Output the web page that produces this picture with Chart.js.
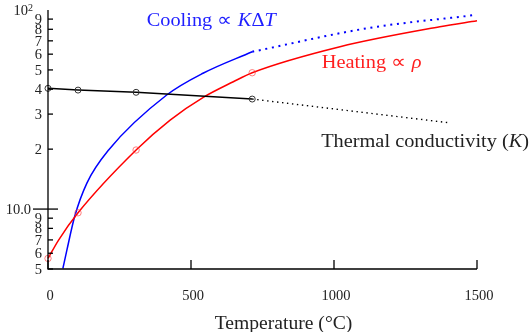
<!DOCTYPE html>
<html>
<head>
<meta charset="utf-8">
<script src="https://cdn.jsdelivr.net/npm/chart.js@4"></script>
<style>
  html, body { margin: 0; padding: 0; background: #fff; }
  #wrap { width: 532px; height: 332px; }
</style>
</head>
<body>
<div id="wrap"><canvas id="chart" width="532" height="332"></canvas></div>
<script>
// --- datos ---
// conductividad termica (K), tramo medido con marcadores
const condT = [0, 105, 308, 714];
const condVal = [40.4, 39.6, 38.6, 35.7];
// extrapolacion punteada
const condExtT = [714, 1405];
const condExtVal = [35.7, 27.1];

// calentamiento (rho)
const heatT = [0, 37, 105, 308, 427, 543, 648, 714, 1021, 1370, 1500];
const heatVal = [5.65, 6.99, 9.58, 19.8, 28.0, 36.4, 43.6, 48.4, 65.4, 82.4, 88.4];
const heatMarkT = [0, 105, 308, 714];

// enfriamiento (K * dT)
const coolT = [52, 66, 93, 136, 212, 415, 542, 714];
const coolVal = [5.03, 6.22, 9.15, 13.5, 19.8, 37.4, 48.1, 61.7];
const coolExtT = [714, 1115, 1485];
const coolExtVal = [61.7, 80.9, 94.1];

// ticks
const xTicks = [0, 500, 1000, 1500];
const yTicks = [5, 6, 7, 8, 9, 10, 20, 30, 40, 50, 60, 70, 80, 90, 100];

const FONT = '"Liberation Serif", "Times New Roman", serif';

function pts(xs, ys) {
    return xs.map((x, i) => ({ x: x, y: ys[i] }));
}

// Dibuja ejes, marcas hacia adentro, etiquetas y textos
const decoPlugin = {
    id: 'deco',
    afterDraw(chart) {
        const ctx = chart.ctx;
        const a = chart.chartArea;
        const xs = chart.scales.x, ys = chart.scales.y;
        ctx.save();
        ctx.strokeStyle = '#000';
        ctx.lineWidth = 1.3;
        ctx.beginPath();
        ctx.moveTo(a.left, a.top);
        ctx.lineTo(a.left, a.bottom);
        ctx.lineTo(a.right, a.bottom);
        ctx.stroke();

        ctx.fillStyle = '#222';
        // eje x
        ctx.font = '14.5px ' + FONT;
        ctx.textAlign = 'center';
        ctx.textBaseline = 'alphabetic';
        xs.ticks.forEach(t => {
            const px = xs.getPixelForValue(t.value);
            ctx.beginPath();
            ctx.moveTo(px, a.bottom);
            ctx.lineTo(px, a.bottom - 9);
            ctx.stroke();
            ctx.fillText(String(t.value), px + 2, a.bottom + 31);
        });

        // eje y (log)
        ys.ticks.forEach(t => {
            const v = t.value;
            const py = ys.getPixelForValue(v);
            ctx.font = '14.5px ' + FONT;
            if (v === 100) {
                ctx.textAlign = 'right';
                ctx.fillText('10', a.left - 20, py + 5);
                ctx.font = '10px ' + FONT;
                ctx.textAlign = 'left';
                ctx.fillText('2', a.left - 20, py + 1);
                return;
            }
            if (v === 10) {
                ctx.beginPath();
                ctx.moveTo(a.left - 15, py);
                ctx.lineTo(a.left + 10, py);
                ctx.stroke();
                ctx.textAlign = 'right';
                ctx.fillText('10.0', a.left - 17, py + 5);
                return;
            }
            ctx.beginPath();
            ctx.moveTo(a.left, py);
            ctx.lineTo(a.left + 5, py);
            ctx.stroke();
            ctx.textAlign = 'right';
            const lab = v < 10 ? String(v) : String(v / 10);
            ctx.fillText(lab, a.left - 6, py + 5);
        });

        // titulo eje x
        ctx.font = '18.5px ' + FONT;
        ctx.textAlign = 'center';
        ctx.save();
        ctx.translate((a.left + a.right) / 2 + 21, a.bottom + 60);
        ctx.scale(1.06, 1);
        ctx.fillText('Temperature (\u00B0C)', 0, 0);
        ctx.restore();

        // anotaciones: partes [texto, cursiva]; se ensanchan (fuente tipo CM)
        const notes = [
            { x: 345, y: 83.4, color: '#1f1fff', parts: [['Cooling \u221D ', false], ['K', true], ['\u0394', false], ['T', true]] },
            { x: 957, y: 50.9, color: '#ff1f1f', parts: [['Heating \u221D ', false], ['\u03C1', true]] },
            { x: 955, y: 20.4, color: '#222', parts: [['Thermal conductivity (', false], ['K', true], [')', false]] }
        ];
        ctx.textAlign = 'left';
        notes.forEach(n => {
            const px = xs.getPixelForValue(n.x);
            const py = ys.getPixelForValue(n.y);
            ctx.save();
            ctx.translate(px, py);
            ctx.scale(1.1, 1);
            ctx.fillStyle = n.color;
            let dx = 0;
            n.parts.forEach(p => {
                ctx.font = (p[1] ? 'italic ' : '') + '18.5px ' + FONT;
                ctx.fillText(p[0], dx, 0);
                dx += ctx.measureText(p[0]).width;
            });
            ctx.restore();
        });
        ctx.restore();
    }
};

new Chart(document.getElementById('chart'), {
    type: 'line',
    data: {
        datasets: [
            {
                data: pts(condT, condVal),
                borderColor: '#000', borderWidth: 1.5,
                pointRadius: 3, pointBorderWidth: 1,
                pointBorderColor: '#333', pointBackgroundColor: 'rgba(0,0,0,0)',
                tension: 0, clip: false
            },
            {
                data: pts(condExtT, condExtVal),
                borderColor: '#000', borderWidth: 1.4, borderDash: [1.4, 3.6],
                pointRadius: 0, tension: 0
            },
            {
                data: pts(heatT, heatVal),
                borderColor: '#ff0000', borderWidth: 1.5,
                pointRadius: heatT.map(t => heatMarkT.indexOf(t) > -1 ? 3.2 : 0),
                pointBorderWidth: 1,
                pointBorderColor: 'rgba(255,60,60,0.65)', pointBackgroundColor: 'rgba(0,0,0,0)',
                cubicInterpolationMode: 'monotone', clip: false
            },
            {
                data: pts(coolT, coolVal),
                borderColor: '#0000ff', borderWidth: 1.5,
                pointRadius: 0,
                cubicInterpolationMode: 'monotone'
            },
            {
                data: pts(coolExtT, coolExtVal),
                borderColor: '#0000ff', borderWidth: 2, borderDash: [2, 4.7],
                pointRadius: 0,
                cubicInterpolationMode: 'monotone'
            }
        ]
    },
    options: {
        responsive: false,
        animation: false,
        devicePixelRatio: 1,
        layout: { padding: { left: 0, right: 55, top: 10, bottom: 0 } },
        plugins: { legend: { display: false }, tooltip: { enabled: false } },
        scales: {
            x: {
                type: 'linear', min: 0, max: 1500,
                grid: { display: false }, border: { display: false },
                ticks: { display: false },
                afterBuildTicks: s => { s.ticks = xTicks.map(v => ({ value: v })); },
                afterFit: s => { s.height = 63; }
            },
            y: {
                type: 'logarithmic', min: 5, max: 100,
                grid: { display: false }, border: { display: false },
                ticks: { display: false },
                afterBuildTicks: s => { s.ticks = yTicks.map(v => ({ value: v })); },
                afterFit: s => { s.width = 48; }
            }
        }
    },
    plugins: [decoPlugin]
});
</script>
</body>
</html>
